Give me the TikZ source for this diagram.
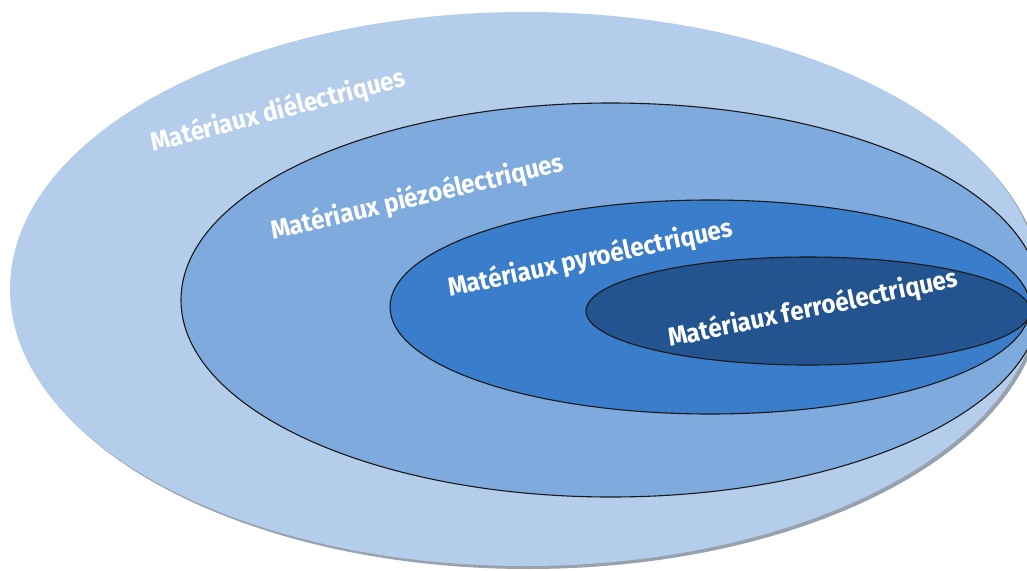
\documentclass[tikz,border=0pt]{standalone}
\usepackage{fontspec}
\setmainfont{Fira Sans}[FakeStretch=0.93]
\definecolor{cDiel}{HTML}{B3CDEA}
\definecolor{cPiezo}{HTML}{7FAADD}
\definecolor{cPyro}{HTML}{3A7DCB}
\definecolor{cFerro}{HTML}{23548F}
\definecolor{cShadow}{HTML}{98A2AE}
\tikzset{
  setline/.style={draw=black!90, line width=1.1pt},
  setlabel/.style={text=white, font=\bfseries\fontsize{26}{26}\selectfont, inner sep=0pt, anchor=base west}
}
\begin{document}
\begin{tikzpicture}[x=1pt, y=-1pt]
\useasboundingbox (0,0) rectangle (1027,570);
\clip (0,0) rectangle (1027,570);
% outer set with soft shadow
\fill[cShadow] (528,292) ellipse [x radius=515, y radius=277];
\fill[cDiel] (525,289) ellipse [x radius=515, y radius=277];
\coordinate (diel) at (525,289);
% piezo
\fill[cPiezo, setline] (611,300) ellipse [x radius=430, y radius=197];
% pyro
\fill[cPyro, setline] (710,307) ellipse [x radius=320, y radius=107];
% ferro
\fill[cFerro, setline] (808,311) ellipse [x radius=222, y radius=54];
% labels
\node[setlabel, rotate=14.6] (tDiel) at (153,152) {Matériaux diélectriques};
\node[setlabel, rotate=13.3] (tPiezo) at (273,240) {Matériaux piézoélectriques};
\node[setlabel, rotate=12.1] (tPyro) at (450,297) {Matériaux pyroélectriques};
\node[setlabel, rotate=11.8] (tFerro) at (670,347) {Matériaux ferroélectriques};
\end{tikzpicture}
\end{document}
